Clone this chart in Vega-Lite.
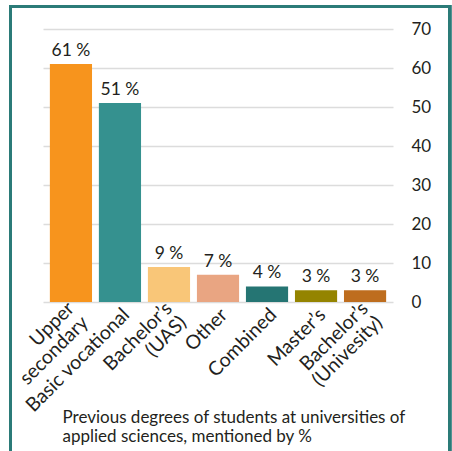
{
  "$schema": "https://vega.github.io/schema/vega-lite/v6.json",
  "autosize": {"type": "none"},
  "padding": {"left": 43, "top": 29, "right": 59, "bottom": 149},
  "width": 350,
  "height": 273,
  "background": "white",
  "config": {
    "view": {"stroke": null},
    "font": "Lato",
    "text": {"font": "Lato"}
  },
  "data": {
    "values": [
      {"category": "Upper|secondary", "value": 61, "label": "61 %", "color": "#F7941D"},
      {"category": "Basic vocational", "value": 51, "label": "51 %", "color": "#35918F"},
      {"category": "Bachelor’s|(UAS)", "value": 9, "label": "9 %", "color": "#F9C678"},
      {"category": "Other", "value": 7, "label": "7 %", "color": "#E9A582"},
      {"category": "Combined", "value": 4, "label": "4 %", "color": "#257573"},
      {"category": "Master’s", "value": 3, "label": "3 %", "color": "#948400"},
      {"category": "Bachelor’s|(Univesity)", "value": 3, "label": "3 %", "color": "#BE6D1E"}
    ]
  },
  "encoding": {
    "x": {
      "field": "category",
      "type": "nominal",
      "sort": null,
      "scale": {"paddingInner": 0.14, "paddingOuter": 0.14},
      "axis": {
        "labelAngle": -45,
        "labelAlign": "right",
        "labelBaseline": {"condition": {"test": "indexof(datum.label, '|') >= 0", "value": "middle"}, "value": "top"},
        "labelExpr": "split(datum.label, '|')",
        "labelFont": "Lato",
        "labelFontSize": 19.5,
        "labelColor": "#231f20",
        "labelLineHeight": 20,
        "labelPadding": 3,
        "domain": false,
        "ticks": false,
        "title": ["Previous degrees of students at universities of", "applied sciences, mentioned by %"],
        "titleFont": "Lato",
        "titleFontSize": 17,
        "titleFontWeight": "normal",
        "titleColor": "#231f20",
        "titleAlign": "left",
        "titleBaseline": "alphabetic",
        "titleAngle": 0,
        "titleX": 19,
        "titleY": 120,
        "titleLineHeight": 19.5
      }
    },
    "y": {
      "field": "value",
      "type": "quantitative",
      "scale": {"domain": [0, 70], "nice": false},
      "axis": {
        "orient": "right",
        "values": [0, 10, 20, 30, 40, 50, 60, 70],
        "grid": true,
        "gridColor": "#dcdcdc",
        "gridWidth": 1.5,
        "domain": false,
        "ticks": false,
        "labelPadding": 18,
        "labelFont": "Lato",
        "labelFontSize": 17,
        "labelColor": "#231f20",
        "title": null
      }
    }
  },
  "layer": [
    {
      "mark": {"type": "bar"},
      "encoding": {
        "color": {"field": "color", "type": "nominal", "scale": null, "legend": null}
      }
    },
    {
      "mark": {"type": "text", "baseline": "alphabetic", "dy": -8, "fontSize": 17.5, "font": "Lato", "color": "#231f20"},
      "encoding": {
        "text": {"field": "label", "type": "nominal"}
      }
    },
    {
      "mark": {"type": "rect", "fill": null, "stroke": "#2b7b78", "strokeWidth": 3},
      "encoding": {
        "x": {"value": -32.5},
        "x2": {"value": 406.7},
        "y": {"value": -22.5},
        "y2": {"value": 440}
      }
    }
  ]
}
